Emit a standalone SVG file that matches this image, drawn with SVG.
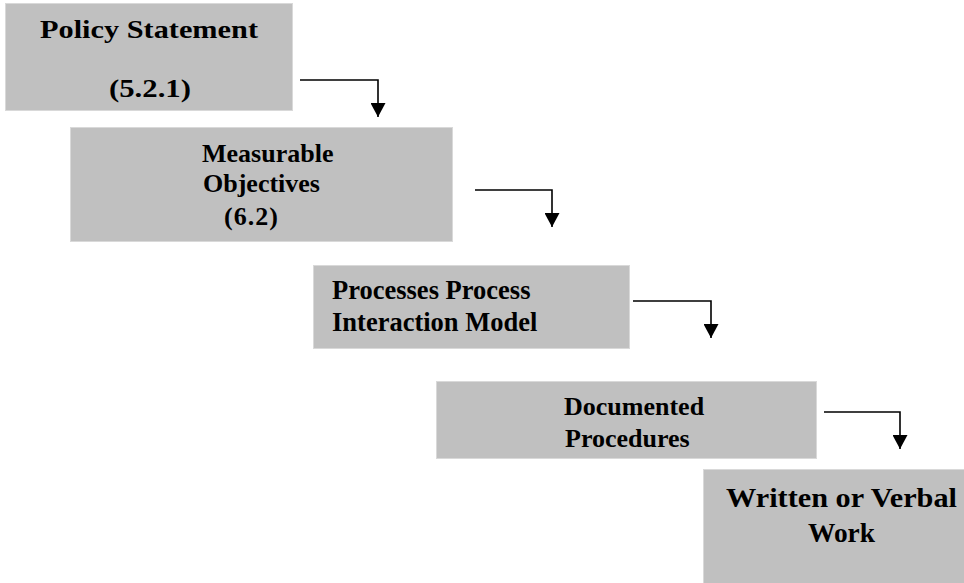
<svg xmlns="http://www.w3.org/2000/svg" width="964" height="583" viewBox="0 0 964 583">
<style>
.box{fill:#c0c0c0;stroke:#d9d9d9;stroke-width:1}
.t{font-family:"Liberation Serif","Times New Roman",serif;font-weight:bold;fill:#000}
.conn{fill:none;stroke:#000;stroke-width:1.6;marker-end:url(#ah)}
</style>
<defs>
<marker id="ah" viewBox="0 0 14 15" refX="14" refY="7.5" markerWidth="14" markerHeight="15" markerUnits="userSpaceOnUse" orient="auto">
<path d="M0,0 L14,7.5 L0,15 z" fill="#000"/>
</marker>
</defs>
<rect width="964" height="583" fill="#fff"/>
<g id="policy">
<rect class="box" x="5.5" y="3.5" width="287" height="107"/>
<text class="t" x="40" y="38" font-size="25" textLength="218" lengthAdjust="spacingAndGlyphs">Policy Statement</text>
<text class="t" x="109" y="97" font-size="25" textLength="82" lengthAdjust="spacingAndGlyphs">(5.2.1)</text>
</g>
<g id="objectives">
<rect class="box" x="70.5" y="127.5" width="382" height="114"/>
<text class="t" x="202" y="162" font-size="26">Measurable</text>
<text class="t" x="203" y="192" font-size="26">Objectives</text>
<text class="t" x="224" y="225" font-size="26" textLength="54">(6.2)</text>
</g>
<g id="processes">
<rect class="box" x="313.5" y="265.5" width="316" height="83"/>
<text class="t" x="332" y="299" font-size="26.5">Processes Process</text>
<text class="t" x="332" y="331" font-size="26.5">Interaction Model</text>
</g>
<g id="procedures">
<rect class="box" x="436.5" y="381.5" width="380" height="77"/>
<text class="t" x="564" y="415" font-size="26">Documented</text>
<text class="t" x="565" y="447" font-size="26">Procedures</text>
</g>
<g id="work">
<rect class="box" x="703.5" y="469.5" width="262" height="116"/>
<text class="t" x="726" y="507" font-size="27" textLength="231" lengthAdjust="spacingAndGlyphs">Written or Verbal</text>
<text class="t" x="808" y="542" font-size="27" textLength="67" lengthAdjust="spacingAndGlyphs">Work</text>
</g>
<g id="connectors">
<path class="conn" d="M300,80 H378 V117"/>
<path class="conn" d="M475,190 H552 V227"/>
<path class="conn" d="M633,301 H711 V338"/>
<path class="conn" d="M824,412 H900 V449"/>
</g>
</svg>
